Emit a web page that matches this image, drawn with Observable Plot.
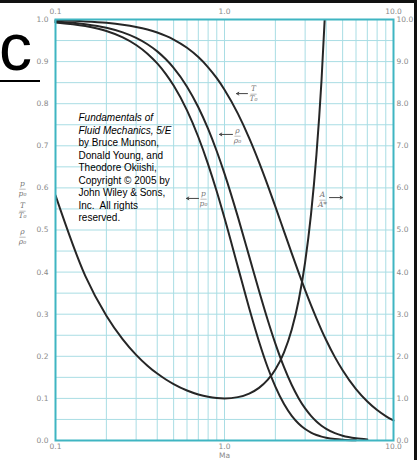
<!DOCTYPE html>
<html>
<head>
<meta charset="utf-8">
<script src="https://cdn.jsdelivr.net/npm/d3@7"></script>
<script src="https://cdn.jsdelivr.net/npm/@observablehq/plot@0.6"></script>
<style>
  html, body { margin: 0; padding: 0; background: #fff; }
  #wrap { position: relative; width: 417px; height: 460px; overflow: hidden; background: #fff; }
  #wrap svg { position: absolute; left: 0; top: 0; }
  #bigc { position: absolute; left: -1px; top: 14px; font: 66px "Liberation Sans", Arial, sans-serif; color: #000; line-height: 1; }
  #bigc-u { position: absolute; left: 0; top: 80px; width: 40px; height: 2px; background: #000; }
  #topbar { position: absolute; left: 0; top: 0; width: 417px; height: 3px; background: #111; }
  #rightbar { position: absolute; right: 0; top: 0; width: 3px; height: 460px; background: #111; }
</style>
</head>
<body>
<div id="wrap">
  <div id="bigc">c</div>
  <div id="bigc-u"></div>
  <div id="topbar"></div>
  <div id="rightbar"></div>
</div>
<script>
// Mach numbers and the curves (k = 1.4)
const machTR = [0.1,0.15,0.2,0.25,0.3,0.35,0.4,0.45,0.5,0.6,0.7,0.8,0.9,1.0,1.2,1.4,1.6,1.8,2.0,2.25,2.5,2.75,3.0,3.25,3.5,3.75,4.0,4.5,5,6,7,8,9,10];
const tempRatio = [0.998,0.9955,0.9921,0.9877,0.9823,0.9761,0.969,0.9611,0.9524,0.9328,0.9107,0.8865,0.8606,0.8333,0.7764,0.7184,0.6614,0.6068,0.5556,0.4969,0.4444,0.398,0.3571,0.3213,0.2899,0.2623,0.2381,0.198,0.1667,0.122,0.0926,0.0725,0.0581,0.0476];
const machRho = [0.1,0.15,0.2,0.25,0.3,0.35,0.4,0.45,0.5,0.6,0.7,0.8,0.9,1.0,1.2,1.4,1.6,1.8,2.0,2.25,2.5,2.75,3.0,3.25,3.5,3.75,4.0,4.5,5,6,7];
const densRatio = [0.995,0.9888,0.9803,0.9694,0.9564,0.9413,0.9243,0.9055,0.8852,0.8405,0.7916,0.74,0.687,0.6339,0.5311,0.4374,0.3557,0.2868,0.23,0.174,0.1317,0.1,0.0762,0.0585,0.0452,0.0352,0.0277,0.0175,0.0113,0.0052,0.0026];
const machP = [0.1,0.15,0.2,0.25,0.3,0.35,0.4,0.45,0.5,0.6,0.7,0.8,0.9,1.0,1.2,1.4,1.6,1.8,2.0,2.25,2.5,2.75,3.0,3.25,3.5,3.75,4.0,4.5,5,6];
const presRatio = [0.993,0.9844,0.9725,0.9575,0.9395,0.9188,0.8956,0.8703,0.843,0.784,0.7209,0.656,0.5913,0.5283,0.4124,0.3142,0.2353,0.174,0.1278,0.0865,0.0585,0.0398,0.0272,0.0188,0.0131,0.0092,0.0066,0.0035,0.0019,0.0006];
const machA = [0.1,0.15,0.2,0.25,0.3,0.35,0.4,0.45,0.5,0.6,0.7,0.8,0.9,1.0,1.2,1.4,1.6,1.8,2.0,2.25,2.5,2.75,3.0,3.25,3.5,3.75,4.0];
const areaRatio = [5.822,3.91,2.964,2.403,2.035,1.778,1.59,1.449,1.34,1.188,1.094,1.038,1.009,1.0,1.03,1.115,1.25,1.439,1.688,2.096,2.637,3.338,4.235,5.369,6.79,8.552,10.72];

// Axis ticks
const xLabelTicks = [0.1, 0.5, 1, 5, 10];
const xGridTicks = [0.1,0.2,0.3,0.4,0.5,0.6,0.7,0.8,0.9,1,2,3,4,5,6,7,8,9,10];
const yLabelTicks = [0,0.1,0.2,0.3,0.4,0.5,0.6,0.7,0.8,0.9,1.0];
const yGridTicks = [0,0.05,0.1,0.15,0.2,0.25,0.3,0.35,0.4,0.45,0.5,0.55,0.6,0.65,0.7,0.75,0.8,0.85,0.9,0.95,1.0];

// Curve labels inside the plot (fraction labels) and their arrows
const labelNum = ["T", "ρ", "p", "A"];
const labelDen = ["T₀", "ρ₀", "p₀", "A*"];
const labelMach = [1.485, 1.194, 0.751, 3.80];
const labelVal = [0.824, 0.7245, 0.575, 0.5725];
const arrowM1 = [1.368, 1.115, 0.702, 4.18];
const arrowM2 = [1.178, 0.934, 0.596, 4.99];
const arrowVal = [0.824, 0.727, 0.575, 0.577];

// Left-axis title fractions
const axisNum = ["p", "T", "ρ"];
const axisDen = ["p₀", "T₀", "ρ₀"];
const axisVal = [0.5986, 0.5463, 0.4846];

// Copyright note
const noteItalic = "Fundamentals of\nFluid Mechanics, 5/E";
const noteBody = "by Bruce Munson,\nDonald Young, and\nTheodore Okiishi,\nCopyright © 2005 by\nJohn Wiley & Sons,\nInc.  All rights\nreserved.";
const noteMach = 0.1368;
const noteVal1 = 0.779;
const noteVal2 = 0.7197;

const tr = machTR.map((m, i) => ({m, v: tempRatio[i]}));
const rr = machRho.map((m, i) => ({m, v: densRatio[i]}));
const pr = machP.map((m, i) => ({m, v: presRatio[i]}));
const ar = machA.map((m, i) => ({m, v: areaRatio[i]}));
const labels = labelNum.map((n, i) => ({num: n, den: labelDen[i], m: labelMach[i], v: labelVal[i], m1: arrowM1[i], m2: arrowM2[i], av: arrowVal[i]}));
const axisLabels = axisNum.map((n, i) => ({num: n, den: axisDen[i], m: 0.1, v: axisVal[i]}));

const gridColor = "#a9dde4";
const frameColor = "#3fb5c2";
const tickColor = "#8a8a8a";
const lineColor = "#262626";
const labFont = "DejaVu Serif, serif";

const chart = Plot.plot({
  width: 417,
  height: 460,
  marginLeft: 55,
  marginRight: 24,
  marginTop: 19,
  marginBottom: 20,
  style: {background: "transparent", fontFamily: "DejaVu Sans, sans-serif"},
  x: {type: "log", domain: [0.1, 10]},
  y: {domain: [0, 1]},
  marks: [
    Plot.gridX(xGridTicks, {stroke: gridColor, strokeOpacity: 1, strokeWidth: 1}),
    Plot.gridY(yGridTicks, {stroke: gridColor, strokeOpacity: 1, strokeWidth: 1}),
    Plot.axisX(xLabelTicks, {anchor: "bottom", tickSize: 0, tickPadding: 3, fontSize: 7.5, fill: tickColor, tickFormat: d => d.toFixed(1), label: "Ma", labelAnchor: "center", labelArrow: "none", labelOffset: 17}),
    Plot.axisX(xLabelTicks, {anchor: "top", tickSize: 0, tickPadding: 6, fontSize: 7.5, fill: tickColor, tickFormat: d => d.toFixed(1), label: null}),
    Plot.axisY(yLabelTicks, {anchor: "left", tickSize: 0, tickPadding: 7, fontSize: 7.5, fill: tickColor, tickFormat: d => d.toFixed(1), label: null}),
    Plot.axisY(yLabelTicks, {anchor: "right", tickSize: 0, tickPadding: 3, fontSize: 7.5, fill: tickColor, tickFormat: d => (d * 10).toFixed(1), label: null}),
    Plot.line(tr, {x: "m", y: "v", stroke: lineColor, strokeWidth: 2, curve: "monotone-x"}),
    Plot.line(rr, {x: "m", y: "v", stroke: lineColor, strokeWidth: 2, curve: "monotone-x"}),
    Plot.line(pr, {x: "m", y: "v", stroke: lineColor, strokeWidth: 2, curve: "monotone-x"}),
    Plot.line(ar, {x: "m", y: d => d.v / 10, stroke: lineColor, strokeWidth: 2, curve: "monotone-x", clip: true}),
    Plot.frame({stroke: frameColor, strokeWidth: 2}),
    // curve labels
    Plot.text(labels, {x: "m", y: "v", text: "num", dy: -5, fontSize: 7.5, fontStyle: "italic", fontFamily: labFont, fill: "#777"}),
    Plot.text(labels, {x: "m", y: "v", text: "den", dy: 5, fontSize: 7.5, fontStyle: "italic", fontFamily: labFont, fill: "#777"}),
    Plot.text(labels, {x: "m", y: "v", text: () => "—", dy: 0, fontSize: 7, fill: "#777"}),
    Plot.arrow(labels, {x1: "m1", y1: "av", x2: "m2", y2: "av", stroke: "#444", strokeWidth: 1, headLength: 4, bend: false}),
    // axis title fractions on the left
    Plot.text(axisLabels, {x: "m", y: "v", text: "num", dx: -33, dy: -5, fontSize: 7.5, fontStyle: "italic", fontFamily: labFont, fill: "#777"}),
    Plot.text(axisLabels, {x: "m", y: "v", text: "den", dx: -33, dy: 5, fontSize: 7.5, fontStyle: "italic", fontFamily: labFont, fill: "#777"}),
    Plot.text(axisLabels, {x: "m", y: "v", text: () => "—", dx: -33, dy: 0, fontSize: 7, fill: "#777"}),
    // note
    Plot.text([noteItalic], {x: () => noteMach, y: () => noteVal1, text: d => d, textAnchor: "start", lineAnchor: "top", fontSize: 10, lineHeight: 1.25, fontStyle: "italic", fontFamily: "Liberation Sans, Arial, sans-serif", fill: "#000"}),
    Plot.text([noteBody], {x: () => noteMach, y: () => noteVal2, text: d => d, textAnchor: "start", lineAnchor: "top", fontSize: 10, lineHeight: 1.25, fontFamily: "Liberation Sans, Arial, sans-serif", fill: "#000"})
  ]
});
document.getElementById("wrap").prepend(chart);
</script>
</body>
</html>
